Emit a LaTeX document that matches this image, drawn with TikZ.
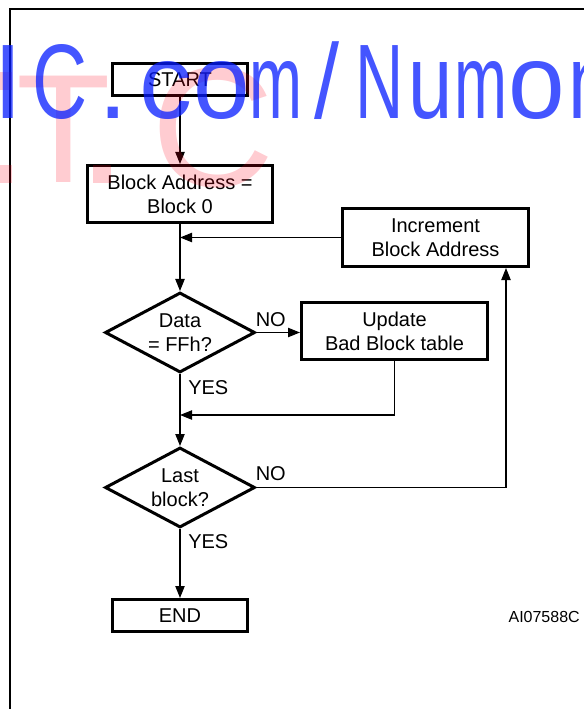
\documentclass[tikz,border=0pt]{standalone}
\usepackage{fontspec}
\setmainfont{Liberation Sans}
\usetikzlibrary{arrows.meta,shapes.geometric,calc}
\definecolor{wmblue}{RGB}{6,28,255}
\definecolor{wmred}{RGB}{255,0,25}
\newcommand\dgfont{\fontsize{15pt}{18pt}\selectfont}
\newcommand\wmg[2]{\scalebox{#1}[1]{#2}}
\begin{document}
\begin{tikzpicture}[x=0.75pt,y=-0.75pt,
  box/.style={draw, line width=2.25pt, inner sep=0pt, align=center, font=\dgfont},
  dia/.style={draw, diamond, line width=2.25pt, inner sep=0pt, align=center, font=\dgfont,
    minimum width=112.5pt, minimum height=60pt, shape aspect=1.875},
  conn/.style={line width=0.8pt},
  tip/.tip={Triangle[length=9pt,width=7pt]},
  lbl/.style={inner sep=0pt, font=\dgfont},
  wmb/.style={inner sep=0pt, anchor=base west, text=wmblue, text opacity=0.75,
    font=\fontsize{79.5pt}{80pt}\selectfont},
  wmr/.style={inner sep=0pt, anchor=base west, text=wmred, text opacity=0.2,
    font=\fontsize{116pt}{116pt}\selectfont}]
\useasboundingbox (0,0) rectangle (584,709);
% frame
\draw[line width=1.5pt] (10,712) -- (10,9) -- (590,9);
% nodes
\node[box, minimum width=101.25pt, minimum height=24pt] (start) at (180,79.5) {START};
\node[box, minimum width=138.75pt, minimum height=42.75pt] (ba) at (180,194) {Block Address =\\Block 0};
\node[box, minimum width=139.5pt, minimum height=43.5pt] (inc) at (435.5,237.5) {Increment\\Block Address};
\node[dia] (d1) at (180,332.5) {Data\\= FFh?};
\node[box, minimum width=139.5pt, minimum height=42.75pt] (upd) at (394.5,331) {Update\\Bad Block table};
\node[dia] (d2) at (180,487.5) {Last\\block?};
\node[box, minimum width=101.25pt, minimum height=24pt] (end) at (180,615.5) {END};
\node[inner sep=0pt, anchor=base east, font=\fontsize{12pt}{14pt}\selectfont] (code) at (580,622) {AI07588C};
% connectors
\draw[conn,-tip] (start) -- (ba);
\draw[conn,-tip] (ba) -- (d1);
\coordinate (j1) at (inc.west -| ba.south);
\draw[conn,-tip] (inc.west) -- (j1);
\draw[conn,-tip] (d1.east) -- (d1.east -| upd.west);
\node[lbl, anchor=base west] (no1) at ($(d1.east)+(-1,-6)$) {NO};
\node[lbl, anchor=base west] (yes1) at ($(d1.south)+(8,20)$) {YES};
\draw[conn,-tip] (d1) -- (d2);
\coordinate (u1) at (394.5,415);
\coordinate (j2) at (180,415);
\draw[conn,-tip] (upd.south) -- (u1) -- (j2);
\draw[conn,-tip] (d2) -- (end);
\coordinate (r1) at (506,487.5);
\draw[conn,-tip] (d2.east) -- (r1) -- (r1 |- inc.south);
\node[lbl, anchor=base west] (no2) at ($(d2.east)+(-1,-7.5)$) {NO};
\node[lbl, anchor=base west] (yes2) at ($(d2.south)+(8,19)$) {YES};
% watermark
\begin{scope}
\clip (0,0) rectangle (584,709);
\fill[wmred, opacity=0.2] (0,72) rectangle (12,90);
\fill[wmred, opacity=0.2] (0,165) rectangle (12,183);
\fill[wmred, opacity=0.2] (93,165) rectangle (111,183);
\node[wmr] (r1t) at (16.2,183) {T};
\node[wmr, font=\fontsize{128pt}{128pt}\selectfont] (r2c) at (151,186) {C};
\node[wmb] (w1) at (-7,119) {\wmg{1}{I}};
\node[wmb] (w2) at (32.2,119) {\wmg{0.72}{C}};
\node[wmb] (w3) at (98.4,119) {\wmg{1}{.}};
\node[wmb] (w4) at (138.9,119) {\wmg{1}{c}};
\node[wmb] (w5) at (193.4,119) {\wmg{0.96}{o}};
\node[wmb] (w6) at (248.9,119) {\wmg{0.6}{m}};
\node[wmb] (w7) at (314,119) {\wmg{0.85}{/}};
\node[wmb] (w8) at (354.9,119) {\wmg{0.63}{N}};
\node[wmb] (w9) at (407.8,119) {\wmg{0.75}{u}};
\node[wmb] (w10) at (453.9,119) {\wmg{0.6}{m}};
\node[wmb] (w11) at (508.4,119) {\wmg{0.96}{o}};
\node[wmb] (w12) at (567.8,119) {\wmg{0.75}{n}};
\end{scope}
\end{tikzpicture}
\end{document}
